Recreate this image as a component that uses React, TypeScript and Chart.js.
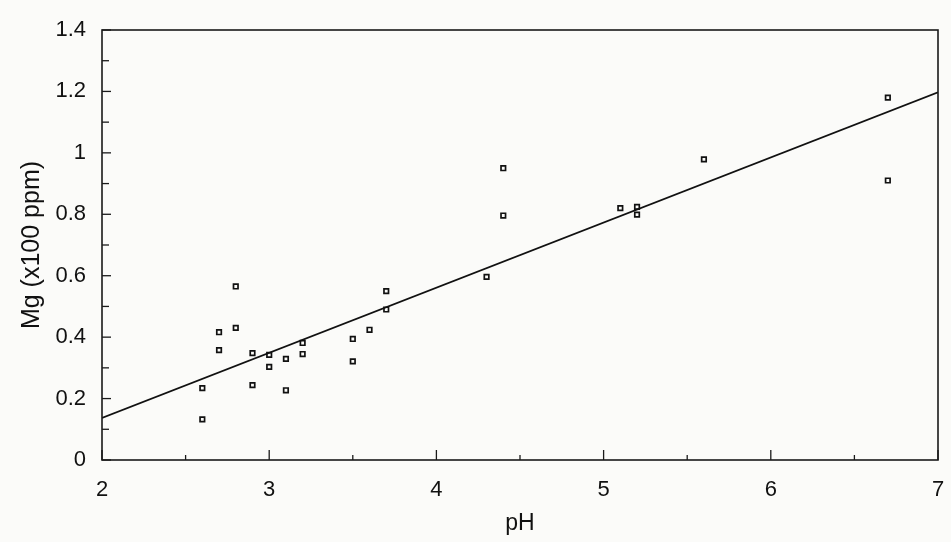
import React, { useEffect, useRef } from "react";
import { Chart, registerables } from "chart.js";

Chart.register(...registerables);

const pHValues = [2.6, 2.6, 2.7, 2.7, 2.8, 2.8, 2.9, 2.9, 3.0, 3.0, 3.1, 3.1, 3.2, 3.2, 3.5, 3.5, 3.6, 3.7, 3.7, 4.3, 4.4, 4.4, 5.1, 5.2, 5.2, 5.6, 6.7, 6.7];
const mgValues = [0.234, 0.132, 0.416, 0.358, 0.565, 0.43, 0.348, 0.244, 0.342, 0.303, 0.329, 0.227, 0.381, 0.345, 0.394, 0.321, 0.424, 0.55, 0.49, 0.596, 0.95, 0.796, 0.82, 0.824, 0.799, 0.979, 1.18, 0.91];
const fitX = [2, 7];
const fitY = [0.137, 1.197];
const xTitle = "pH";
const yTitle = "Mg (x100 ppm)";

const FONT = "'Liberation Sans', Arial, sans-serif";

const frameTicks = {
  id: "frameTicks",
  afterDatasetsDraw(chart: any) {
    const { ctx, chartArea, scales } = chart;
    const { left, right, top, bottom } = chartArea;
    ctx.save();
    ctx.strokeStyle = "#1a1a1a";
    ctx.lineWidth = 1.6;
    ctx.strokeRect(left, top, right - left, bottom - top);
    ctx.lineWidth = 1.3;
    for (let v = 2; v <= 7.001; v += 0.5) {
      const px = scales.x.getPixelForValue(v);
      const major = Math.abs(v - Math.round(v)) < 1e-6;
      const len = major ? 10 : 5;
      ctx.beginPath();
      ctx.moveTo(px, bottom);
      ctx.lineTo(px, bottom - len);
      ctx.stroke();
    }
    for (let i = 0; i <= 14; i++) {
      const v = i / 10;
      const py = scales.y.getPixelForValue(v);
      const major = i % 2 === 0;
      const len = major ? 9 : 7;
      ctx.beginPath();
      ctx.moveTo(left, py);
      ctx.lineTo(left + len, py);
      ctx.stroke();
    }
    ctx.restore();
  },
};

export default function App() {
  const ref = useRef<HTMLCanvasElement>(null);
  useEffect(() => {
    document.body.style.margin = "0";
    const points = pHValues.map((x, i) => ({ x, y: mgValues[i] }));
    const line = fitX.map((x, i) => ({ x, y: fitY[i] }));
    const chart = new Chart(ref.current!, {
      type: "scatter",
      data: {
        datasets: [
          {
            type: "line",
            data: line,
            borderColor: "#111",
            borderWidth: 1.8,
            pointRadius: 0,
            showLine: true,
            fill: false,
          } as any,
          {
            data: points,
            pointStyle: "rect",
            pointRadius: 3.2,
            pointBorderWidth: 1.7,
            pointBorderColor: "#111",
            pointBackgroundColor: "rgba(255,255,255,0)",
          },
        ],
      },
      options: {
        animation: false,
        responsive: false,
        maintainAspectRatio: false,
        layout: { padding: { top: 30, right: 13, left: 0, bottom: 0 } },
        plugins: { legend: { display: false }, tooltip: { enabled: false } },
        scales: {
          x: {
            type: "linear",
            min: 2,
            max: 7,
            border: { display: false },
            grid: { display: false, drawTicks: false },
            ticks: {
              stepSize: 1,
              padding: 17,
              color: "#111",
              font: { family: FONT, size: 22 },
              maxRotation: 0,
            },
            title: {
              display: true,
              text: xTitle,
              color: "#111",
              font: { family: FONT, size: 23 },
              padding: { top: 0, bottom: 5 },
            },
            afterFit: (s: any) => {
              s.height = 82;
              s.paddingLeft = 0;
              s.paddingRight = 0;
            },
          },
          y: {
            type: "linear",
            min: 0,
            max: 1.4,
            border: { display: false },
            grid: { display: false, drawTicks: false },
            ticks: {
              stepSize: 0.2,
              padding: 16,
              color: "#111",
              font: { family: FONT, size: 22 },
              callback: (v: any) => String(Number(Number(v).toFixed(1))),
            },
            title: {
              display: true,
              text: yTitle,
              color: "#111",
              font: { family: FONT, size: 25 },
              padding: { top: 17, bottom: 0 },
            },
            afterFit: (s: any) => {
              s.width = 102;
              s.paddingTop = 0;
              s.paddingBottom = 0;
            },
          },
        },
      },
      plugins: [frameTicks],
    });
    return () => chart.destroy();
  }, []);
  return (
    <div style={{ width: 951, height: 542, background: "#fbfbf9" }}>
      <canvas ref={ref} width={951} height={542} style={{ display: "block" }} />
    </div>
  );
}
